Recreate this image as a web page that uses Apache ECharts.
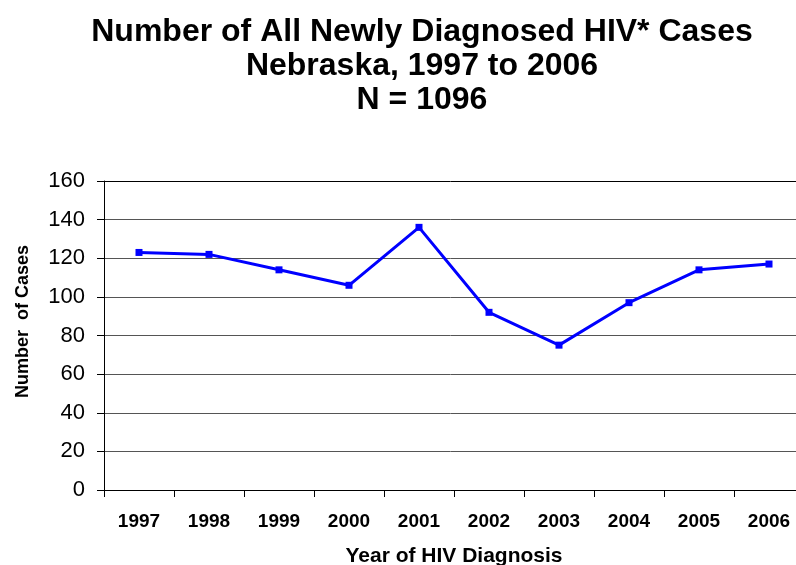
<!DOCTYPE html>
<html>
<head>
<meta charset="utf-8">
<script src="https://cdn.jsdelivr.net/npm/echarts@6/dist/echarts.min.js"></script>
<style>
  html, body { margin: 0; padding: 0; background: #fff; }
  #chart { width: 796px; height: 565px; }
</style>
</head>
<body>
<div id="chart"></div>
<script>
const years = ['1997', '1998', '1999', '2000', '2001', '2002', '2003', '2004', '2005', '2006']
const cases = [123, 122, 114, 106, 136, 92, 75, 97, 114, 117]
const yTicks = [0, 20, 40, 60, 80, 100, 120, 140, 160]

const font = '"Liberation Sans", Arial, sans-serif'

// gridlines are grey, the top one (160) is black
const gridColors = yTicks.map((v, i) => i === yTicks.length - 1 ? '#000' : '#555')

const chart = echarts.init(document.getElementById('chart'))

const option = {
    backgroundColor: '#fff',
    animation: false,
    title: {
        text: 'Number of All Newly Diagnosed HIV* Cases\nNebraska, 1997 to 2006\nN = 1096',
        left: 417,
        top: 10,
        textAlign: 'center',
        textStyle: {
            fontFamily: font,
            fontSize: 32,
            fontWeight: 'bold',
            color: '#000',
            lineHeight: 34
        }
    },
    grid: {
        left: 104,
        width: 700,
        top: 181,
        height: 309,
        outerBoundsMode: 'none'
    },
    xAxis: {
        type: 'category',
        data: years,
        boundaryGap: true,
        name: 'Year of HIV Diagnosis',
        nameLocation: 'middle',
        nameGap: 56,
        nameTextStyle: {
            fontFamily: font,
            fontSize: 21,
            fontWeight: 'bold',
            color: '#000'
        },
        axisLine: {lineStyle: {color: '#000', width: 1}},
        axisTick: {show: true, length: 7, lineStyle: {color: '#000'}},
        axisLabel: {
            margin: 22,
            fontFamily: font,
            fontSize: 19,
            fontWeight: 'bold',
            color: '#000'
        },
        splitLine: {show: false}
    },
    yAxis: {
        type: 'value',
        min: yTicks[0],
        max: yTicks[yTicks.length - 1],
        interval: 20,
        name: 'Number  of Cases',
        nameLocation: 'middle',
        nameGap: 72,
        nameRotate: 90,
        nameTextStyle: {
            fontFamily: font,
            fontSize: 18,
            fontWeight: 'bold',
            color: '#000',
            padding: [0, 0, 0, 28]
        },
        axisLine: {show: true, lineStyle: {color: '#000', width: 1}},
        axisTick: {show: true, length: 7, lineStyle: {color: '#000'}},
        axisLabel: {
            margin: 19,
            fontFamily: font,
            fontSize: 22,
            color: '#000'
        },
        splitLine: {show: true, lineStyle: {color: gridColors, width: 1}}
    },
    series: [
        {
            name: 'Cases',
            type: 'line',
            data: cases,
            symbol: 'rect',
            symbolSize: 7,
            lineStyle: {color: '#0000ff', width: 3},
            itemStyle: {color: '#0000ff'}
        }
    ]
}

chart.setOption(option)
</script>
</body>
</html>
